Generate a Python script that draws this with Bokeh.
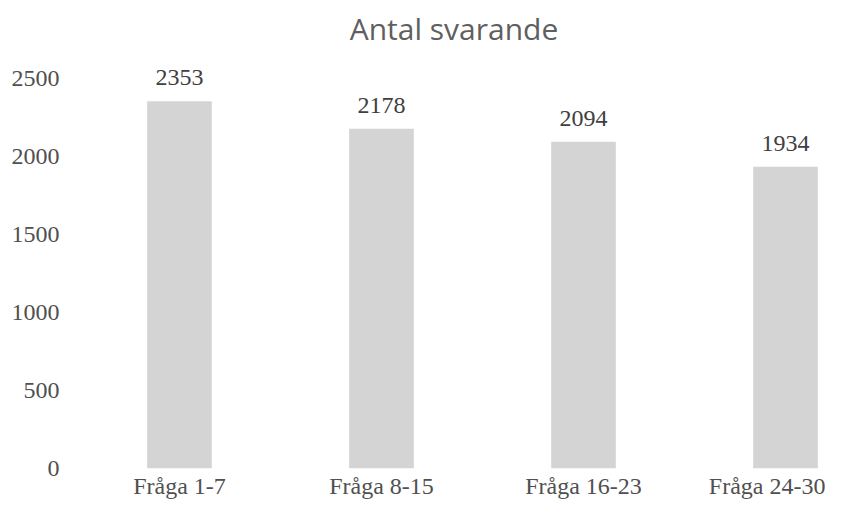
from bokeh.plotting import figure
from bokeh.models import ColumnDataSource, LabelSet, FixedTicker, Range1d
from bokeh.embed import file_html
from bokeh.resources import INLINE

categories = ["Fråga 1-7", "Fråga 8-15", "Fråga 16-23", "Fråga 24-30"]
values = [2353, 2178, 2094, 1934]
y_ticks = [0, 500, 1000, 1500, 2000, 2500]
title_text = "Antal svarande"

xs = list(range(len(categories)))
src = ColumnDataSource(dict(x=xs, top=values, label=[str(v) for v in values]))

p = figure(width=825, height=504, output_backend="svg", toolbar_location=None,
           x_range=Range1d(-0.48, 3.198), y_range=Range1d(0, 2679),
           min_border_left=82, min_border_right=0, min_border_top=50, min_border_bottom=36)

p.vbar(x="x", top="top", width=0.32, bottom=0, source=src,
       fill_color="#d4d4d4", line_color=None)

labels = LabelSet(x="x", y="top", text="label", source=src, text_align="center",
                  text_baseline="alphabetic", y_offset=16,
                  text_font="Liberation Serif", text_font_size="24px", text_color="#404040")
p.add_layout(labels)

p.title.text = title_text
p.title.align = "center"
p.title.text_font = "Open Sans"
p.title.text_font_size = "30px"
p.title.text_font_style = "normal"
p.title.text_color = "#5f5f5f"
p.title.standoff = 4

p.xaxis.ticker = FixedTicker(ticks=xs)
p.xaxis.major_label_overrides = {i: c for i, c in enumerate(categories)}
p.yaxis.ticker = FixedTicker(ticks=y_ticks)

for ax in (p.xaxis, p.yaxis):
    ax.axis_line_color = None
    ax.major_tick_line_color = None
    ax.minor_tick_line_color = None
    ax.major_tick_out = 0
    ax.major_tick_in = 0
    ax.major_label_text_font = "Liberation Serif"
    ax.major_label_text_font_size = "24px"
    ax.major_label_text_color = "#505050"
p.yaxis.major_label_standoff = 23
p.xaxis.major_label_standoff = 4

p.xgrid.grid_line_color = None
p.ygrid.grid_line_color = None
p.outline_line_color = None
p.background_fill_color = "white"
p.border_fill_color = "white"

open("out.html", "w").write(file_html(p, INLINE))
